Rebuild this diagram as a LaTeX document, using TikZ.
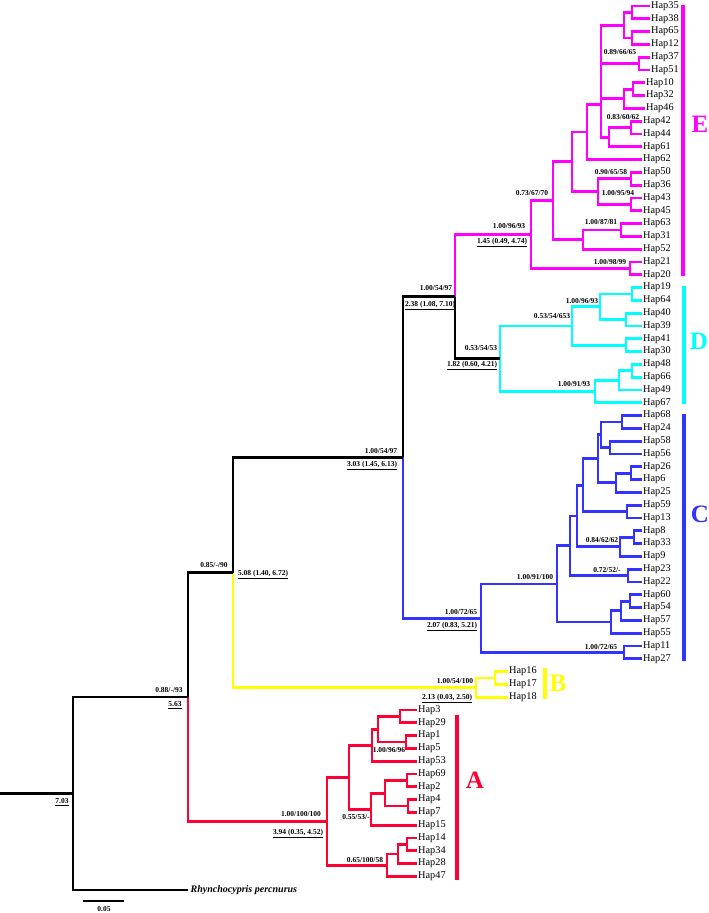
\documentclass[tikz,border=0pt]{standalone}
\usepackage{fontspec}
\setmainfont{Liberation Serif}
\usepackage{xcolor}
\usepackage{tikz}
\usetikzlibrary{positioning,calc}

\definecolor{cladeE}{RGB}{255,0,255}
\definecolor{cladeD}{RGB}{0,255,255}
\definecolor{cladeC}{RGB}{51,51,255}
\definecolor{cladeB}{RGB}{255,255,0}
\definecolor{cladeA}{RGB}{255,0,51}

\newcommand{\agetext}[1]{\underline{#1}}

\tikzset{
  branch/.style={line width=2.8pt},
  hap/.style={anchor=west, inner sep=1pt, font=\fontsize{10.3}{12}\selectfont},
  support/.style={inner sep=0pt, font=\bfseries\fontsize{7.5}{9}\selectfont},
  cladebar/.style={line width=3.6pt},
  cladename/.style={inner sep=0pt, font=\bfseries\fontsize{25}{30}\selectfont}
}

\begin{document}
\begin{tikzpicture}[x=1pt,y=-1pt]
    \useasboundingbox (0,0) rectangle (709,913);

    % Haplotypes, top to bottom
    \foreach \n/\x [count=\i from 0] in {35/650,38/650,65/650,12/650,37/650,51/650,
        10/645,32/645,46/645,42/642,44/642,61/642,62/642,50/642,36/642,43/642,45/642,
        63/642,31/642,52/642,21/642,20/642,
        19/642,64/642,40/642,39/642,41/642,30/642,48/642,66/642,49/642,67/642,
        68/642,24/642,58/642,56/642,26/642,6/642,25/642,59/642,13/642,8/642,33/642,
        9/642,23/642,22/642,60/642,54/642,57/642,55/642,11/642,27/642,
        16/508,17/508,18/508,
        3/417,29/417,1/417,5/417,53/417,69/417,2/417,4/417,7/417,15/417,14/417,
        34/417,28/417,47/417}
        \node[hap] (h\n) at (\x,6+12.8*\i) {Hap\n};
    \node[hap, inner sep=2.5pt, font=\bfseries\itshape\fontsize{10}{12}\selectfont] (out) at (188,890) {Rhynchocypris percnurus};

    % Clade E
    \coordinate (e1) at (632,12.4);   \coordinate (e2) at (632,38);
    \coordinate (e3) at (624,25.2);   \coordinate (e4) at (639,63.6);
    \coordinate (e5) at (633,89.2);   \coordinate (e6) at (624,98.8);
    \coordinate (e7) at (631,127.6);  \coordinate (e8) at (609,137.2);
    \coordinate (e9) at (601,104.4);  \coordinate (e10) at (587,132);
    \coordinate (e11) at (631,178.8); \coordinate (e12) at (631,204.4);
    \coordinate (e13) at (598,191.6); \coordinate (e14) at (572,161.8);
    \coordinate (e15) at (621,230);   \coordinate (e16) at (583,239.6);
    \coordinate (e17) at (553,200.7); \coordinate (e18) at (630,268.4);
    \coordinate (eR) at (531,234.6);
    \foreach \p/\c in {e1/h35,e1/h38,e2/h65,e2/h12,e3/e1,e3/e2,e4/h37,e4/h51,
        e5/h10,e5/h32,e6/e5,e6/h46,e7/h42,e7/h44,e8/e7,e8/h61,
        e9/e3,e9/e4,e9/e6,e9/e8,e10/e9,e10/h62,e11/h50,e11/h36,e12/h43,e12/h45,
        e13/e11,e13/e12,e14/e10,e14/e13,e15/h63,e15/h31,e16/e15,e16/h52,
        e17/e14,e17/e16,e18/h21,e18/h20,eR/e17,eR/e18}
        \draw[branch,cladeE] (\p) |- (\c);

    % Clade D
    \coordinate (d1) at (632,294);   \coordinate (d2) at (626,319.6);
    \coordinate (d3) at (600,306.8); \coordinate (d4) at (626,345.2);
    \coordinate (d5) at (572,326);   \coordinate (d6) at (632,370.8);
    \coordinate (d7) at (619,380.4); \coordinate (d8) at (595,391.6);
    \coordinate (dR) at (500,358.8);
    \foreach \p/\c in {d1/h19,d1/h64,d2/h40,d2/h39,d3/d1,d3/d2,d4/h41,d4/h30,
        d5/d3,d5/d4,d6/h48,d6/h66,d7/d6,d7/h49,d8/d7,d8/h67,dR/d5,dR/d8}
        \draw[branch,cladeD] (\p) |- (\c);

    % Clade C
    \coordinate (c1) at (622,422);   \coordinate (c2) at (610,447.6);
    \coordinate (c3) at (601,434.8); \coordinate (c4) at (631,473.2);
    \coordinate (c5) at (616,482.8); \coordinate (c6) at (598,458.8);
    \coordinate (c7) at (627,511.6); \coordinate (c8) at (583,485.2);
    \coordinate (c9) at (634,537.2); \coordinate (c10) at (620,546.8);
    \coordinate (c11) at (577,516);  \coordinate (c12) at (628,575.6);
    \coordinate (c13) at (570,545.8); \coordinate (c14) at (630,601.2);
    \coordinate (c15) at (621,610.8); \coordinate (c16) at (611,622);
    \coordinate (c17) at (557,583.9); \coordinate (c18) at (624,652.4);
    \coordinate (cR) at (481,618.2);
    \foreach \p/\c in {c1/h68,c1/h24,c2/h58,c2/h56,c3/c1,c3/c2,c4/h26,c4/h6,
        c5/c4,c5/h25,c6/c3,c6/c5,c7/h59,c7/h13,c8/c6,c8/c7,c9/h8,c9/h33,
        c10/c9,c10/h9,c11/c8,c11/c10,c12/h23,c12/h22,c13/c11,c13/c12,
        c14/h60,c14/h54,c15/c14,c15/h57,c16/c15,c16/h55,c17/c13,c17/c16,
        c18/h11,c18/h27,cR/c17,cR/c18}
        \draw[branch,cladeC] (\p) |- (\c);

    % Clade B
    \coordinate (b1) at (495,678); \coordinate (bR) at (476,687.6);
    \foreach \p/\c in {b1/h16,b1/h17,bR/b1,bR/h18}
        \draw[branch,cladeB] (\p) |- (\c);

    % Clade A
    \coordinate (a1) at (400,716.4); \coordinate (a2) at (406,742);
    \coordinate (a3) at (378,729.2); \coordinate (a4) at (372,745.2);
    \coordinate (a5) at (407,780.4); \coordinate (a6) at (408,806);
    \coordinate (a7) at (385,793.2); \coordinate (a8) at (371,809.2);
    \coordinate (a9) at (349,777.2); \coordinate (a10) at (407,844.4);
    \coordinate (a11) at (398,854);  \coordinate (a12) at (387,865.2);
    \coordinate (aR) at (327,821.2);
    \foreach \p/\c in {a1/h3,a1/h29,a2/h1,a2/h5,a3/a1,a3/a2,a4/a3,a4/h53,
        a5/h69,a5/h2,a6/h4,a6/h7,a7/a5,a7/a6,a8/a7,a8/h15,a9/a4,a9/a8,
        a10/h14,a10/h34,a11/a10,a11/h28,a12/a11,a12/h47,aR/a9,aR/a12}
        \draw[branch,cladeA] (\p) |- (\c);

    % Backbone
    \coordinate (ED) at (455,296.7);
    \coordinate (EDC) at (403,457.4);
    \coordinate (EDCB) at (233,572.5);
    \coordinate (ingroup) at (188,696.9);
    \coordinate (root) at (73,793.4);
    \coordinate (base) at (0,793.4);
    \draw[branch,cladeE] (ED) |- (eR);
    \draw[branch,cladeC] (EDC) |- (cR);
    \draw[branch,cladeB] (EDCB) |- (bR);
    \draw[branch,cladeA] (ingroup) |- (aR);
    \foreach \p/\c in {ED/dR,EDC/ED,EDCB/EDC,ingroup/EDCB,root/ingroup,root/out}
        \draw[branch] (\p) |- (\c);
    \draw[branch] (base) -- (root);

    % Support values
    \node[support] (s1) at (620,52) {0.89/66/65};
    \node[support] (s2) at (623,117) {0.83/60/62};
    \node[support] (s3) at (611,172) {0.90/65/58};
    \node[support] (s4) at (618,193) {1.00/95/94};
    \node[support] (s5) at (601,222) {1.00/87/81};
    \node[support] (s6) at (532,193) {0.73/67/70};
    \node[support] (s7) at (610,262) {1.00/98/99};
    \node[support] (s8) at (509,226) {1.00/96/93};
    \node[support] (s9) at (436,288) {1.00/54/97};
    \node[support] (s10) at (481,348) {0.53/54/53};
    \node[support] (s11) at (552,316) {0.53/54/653};
    \node[support] (s12) at (582,301) {1.00/96/93};
    \node[support] (s13) at (574,384) {1.00/91/93};
    \node[support] (s14) at (381,451) {1.00/54/97};
    \node[support] (s15) at (602,540) {0.84/62/62};
    \node[support] (s16) at (607,570) {0.72/52/-};
    \node[support] (s17) at (535,577) {1.00/91/100};
    \node[support] (s18) at (461,612) {1.00/72/65};
    \node[support] (s19) at (601,647) {1.00/72/65};
    \node[support] (s20) at (455,681) {1.00/54/100};
    \node[support] (s21) at (214,565) {0.85/-/90};
    \node[support] (s22) at (169,690) {0.88/-/93};
    \node[support] (s23) at (301,814) {1.00/100/100};
    \node[support] (s24) at (389,750) {1.00/96/96};
    \node[support] (s25) at (356,817) {0.55/53/-};
    \node[support] (s26) at (365,860) {0.65/100/58};

    % Divergence times
    \node[support] (t1) at (502,242.5) {\agetext{1.45 (0.49, 4.74)}};
    \node[support] (t2) at (430,305.5) {\agetext{2.38 (1.08, 7.10)}};
    \node[support] (t3) at (472,365.5) {\agetext{1.82 (0.60, 4.21)}};
    \node[support] (t4) at (372,465.5) {\agetext{3.03 (1.45, 6.13)}};
    \node[support] (t5) at (452,626.5) {\agetext{2.07 (0.83, 5.21)}};
    \node[support] (t6) at (447,698.5) {\agetext{2.13 (0.03, 2.50)}};
    \node[support] (t7) at (263,574.5) {\agetext{5.08 (1.40, 6.72)}};
    \node[support] (t8) at (175,705.5) {\agetext{5.63}};
    \node[support] (t9) at (298,833.5) {\agetext{3.94 (0.35, 4.52)}};
    \node[support] (t10) at (62,802.5) {\agetext{7.03}};

    % Clade bars and names
    \draw[cladebar,cladeE] (683,5) -- (683,276);
    \draw[cladebar,cladeD] (684,286) -- (684,404);
    \draw[cladebar,cladeC] (684,414) -- (684,661);
    \draw[cladebar,cladeB] (545,668) -- (545,699);
    \draw[cladebar,cladeA] (457,715) -- (457,880);
    \node[cladename,cladeE] (E) at (700,124) {E};
    \node[cladename,cladeD] (D) at (699,341) {D};
    \node[cladename,cladeC] (C) at (700,514) {C};
    \node[cladename,cladeB] (B) at (558,683) {B};
    \node[cladename,cladeA] (A) at (475,780) {A};

    % Scale bar
    \coordinate (sb1) at (83,901);
    \coordinate (sb2) at (124,901);
    \draw[branch] (sb1) -- (sb2);
    \node[support] (sblabel) at (104,909) {0.05};
\end{tikzpicture}
\end{document}
